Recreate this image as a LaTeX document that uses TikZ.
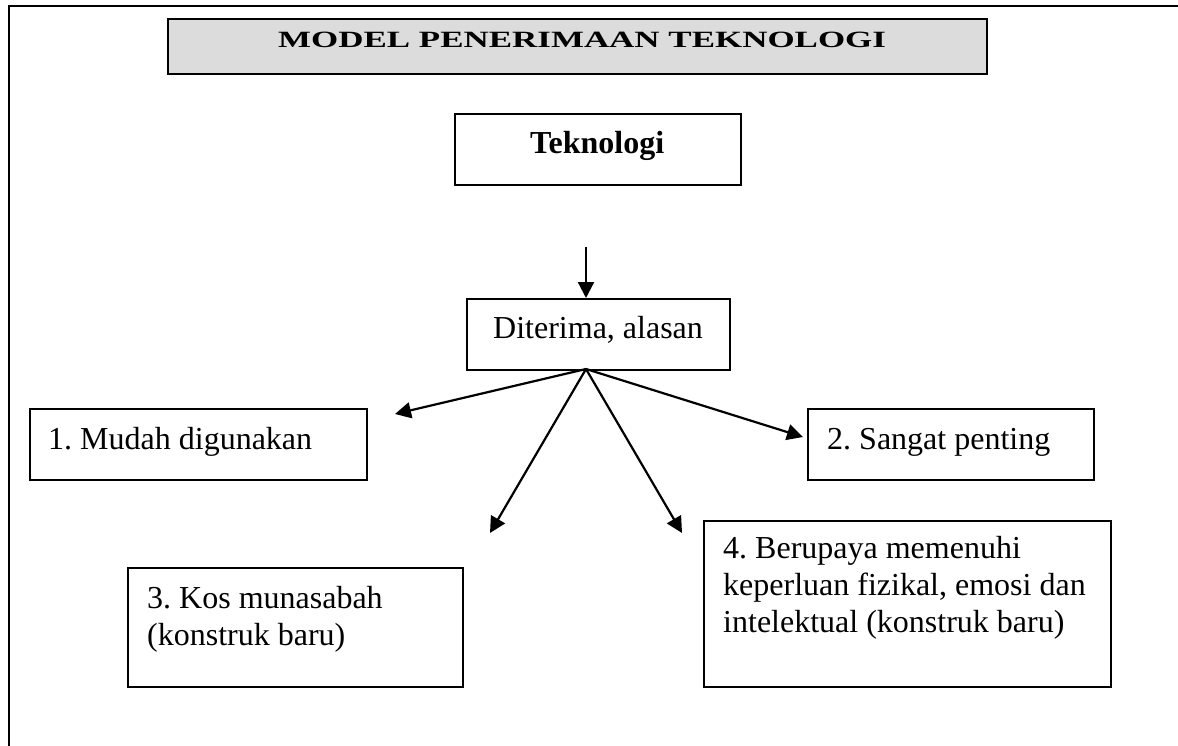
\documentclass[tikz,border=0pt]{standalone}
\usepackage{fontspec}
\setmainfont{Liberation Serif}
\newfontfamily\judulfont[FakeStretch=1.5]{Liberation Serif}
\usetikzlibrary{arrows.meta}
\definecolor{abu}{HTML}{DCDCDC}
\frenchspacing
\tikzset{
  kotak/.style={draw, line width=2pt, inner sep=0pt, anchor=north west},
  teks/.style={inner sep=0pt, anchor=base west, font=\fontsize{32}{37}\selectfont},
  panah/.style={line width=2.2pt, -{Triangle[length=16pt,width=16pt]}}
}

\begin{document}
\begin{tikzpicture}[x=1pt,y=-1pt]
 \useasboundingbox (0,0) rectangle (1178,746);
 \draw[line width=2pt] (9,746)--(9,6)--(1178,6);

 \node[kotak, fill=abu, minimum width=819, minimum height=55] (judul) at (167,18) {};
 \node[anchor=base west, inner sep=0pt, font=\judulfont\bfseries\fontsize{23.3}{26}\selectfont] (judulteks) at (278,48) {MODEL PENERIMAAN TEKNOLOGI};

 \node[kotak, minimum width=286, minimum height=71] (tek) at (454,113) {};
 \node[teks, font=\fontsize{32}{37}\selectfont\bfseries] (tekteks) at (530,154) {Teknologi};

 \node[kotak, minimum width=263, minimum height=71] (terima) at (466,298) {};
 \node[teks] (terimateks) at (493,338) {Diterima, alasan};

 \node[kotak, minimum width=337, minimum height=71] (mudah) at (29,408) {};
 \node[teks] (mudahteks) at (48,449) {1. Mudah digunakan};

 \node[kotak, minimum width=286, minimum height=71] (penting) at (807,408) {};
 \node[teks] (pentingteks) at (827,449) {2. Sangat penting};

 \node[kotak, minimum width=335, minimum height=119] (kos) at (127,567) {};
 \node[teks] (kosteks) at (147,608) {\parbox[t]{300pt}{3. Kos munasabah\\(konstruk baru)}};

 \node[kotak, minimum width=407, minimum height=166] (upaya) at (703,520) {};
 \node[teks] (upayateks) at (723,558) {\parbox[t]{380pt}{4. Berupaya memenuhi\\keperluan fizikal, emosi dan\\intelektual (konstruk baru)}};

 \coordinate (atas) at (586,247);
 \coordinate (asal) at (586,369);
 \coordinate (ke1) at (395,414);
 \coordinate (ke2) at (803,437);
 \coordinate (ke3) at (490,533);
 \coordinate (ke4) at (682,533);

 \draw[panah] (atas) -- (atas |- terima.north);
 \draw[panah] (asal) -- (ke1);
 \draw[panah] (asal) -- (ke2);
 \draw[panah] (asal) -- (ke3);
 \draw[panah] (asal) -- (ke4);
\end{tikzpicture}
\end{document}
